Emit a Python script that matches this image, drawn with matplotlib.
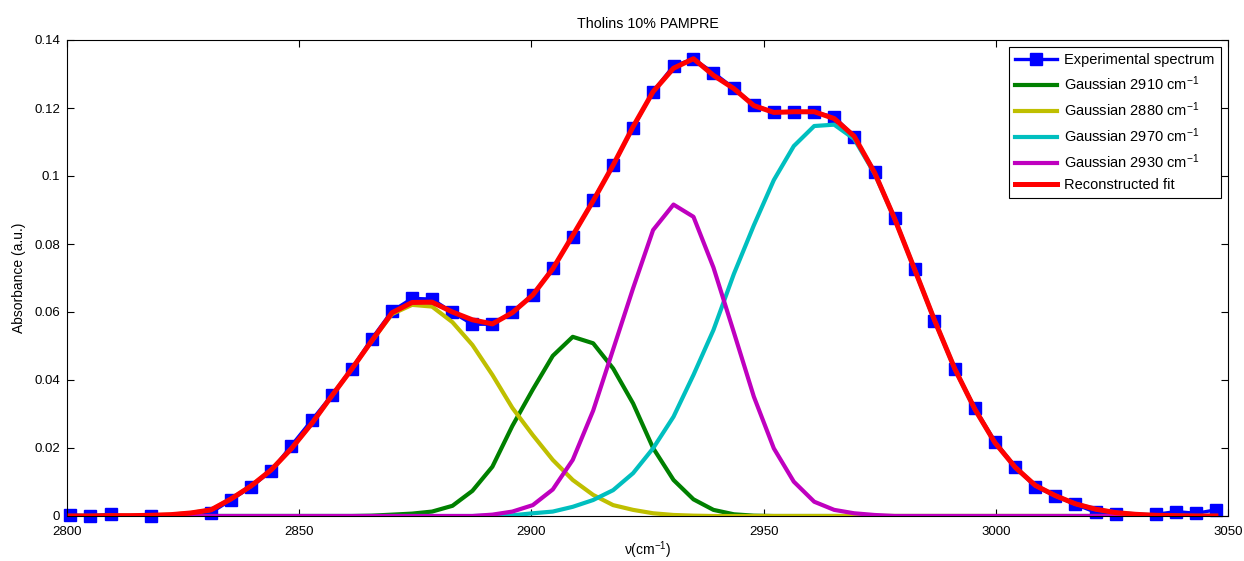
import numpy as np
import matplotlib
matplotlib.use("Agg")
import matplotlib.pyplot as plt

plt.rcParams['font.family'] = ['Liberation Sans', 'DejaVu Sans']
plt.rcParams['mathtext.fontset'] = 'custom'
plt.rcParams['mathtext.rm'] = 'Liberation Sans'
plt.rcParams['mathtext.it'] = 'Liberation Sans'
plt.rcParams['mathtext.default'] = 'regular'

# ---------------- data ----------------
wavenumber = [2800.7, 2805.0, 2809.4, 2813.7, 2818.0, 2822.4, 2826.7, 2831.0, 2835.3, 2839.7,
              2844.0, 2848.3, 2852.7, 2857.0, 2861.3, 2865.6, 2870.0, 2874.3, 2878.6, 2883.0,
              2887.3, 2891.6, 2895.9, 2900.3, 2904.6, 2908.9, 2913.3, 2917.6, 2921.9, 2926.2,
              2930.6, 2934.9, 2939.2, 2943.6, 2947.9, 2952.2, 2956.5, 2960.9, 2965.2, 2969.5,
              2973.9, 2978.2, 2982.5, 2986.8, 2991.2, 2995.5, 2999.8, 3004.2, 3008.5, 3012.8,
              3017.1, 3021.5, 3025.8, 3030.1, 3034.5, 3038.8, 3043.1, 3047.4]

experimental = [0.0003, 0.0001, 0.0005, -0.0010, 0.0000, -0.0008, -0.0004, 0.0010, 0.0047, 0.0086,
                0.0133, 0.0207, 0.0282, 0.0355, 0.0433, 0.0521, 0.0603, 0.0640, 0.0638, 0.0599,
                0.0564, 0.0564, 0.0600, 0.0651, 0.0729, 0.0822, 0.0929, 0.1032, 0.1142, 0.1248,
                0.1324, 0.1344, 0.1304, 0.1258, 0.1209, 0.1187, 0.1187, 0.1187, 0.1174, 0.1116,
                0.1013, 0.0877, 0.0726, 0.0574, 0.0431, 0.0317, 0.0219, 0.0145, 0.0086, 0.0060,
                0.0034, 0.0011, 0.0006, -0.0006, 0.0005, 0.0013, 0.0008, 0.0018]

gauss_2910 = [0.0, 0.0, 0.0, 0.0, 0.0, 0.0, 0.0, 0.0, 0.0, 0.0,
              0.0, 0.0, 0.0, 0.0, 0.0, 0.0001, 0.0004, 0.0007, 0.0013, 0.0030,
              0.0074, 0.0145, 0.0265, 0.0372, 0.0471, 0.0527, 0.0508, 0.0434, 0.0331, 0.0200,
              0.0106, 0.0049, 0.0018, 0.0005, 0.0001, 0.0, 0.0, 0.0, 0.0, 0.0,
              0.0, 0.0, 0.0, 0.0, 0.0, 0.0, 0.0, 0.0, 0.0, 0.0,
              0.0, 0.0, 0.0, 0.0, 0.0, 0.0, 0.0, 0.0]

gauss_2880 = [0.0, 0.0, 0.0001, 0.0001, 0.0002, 0.0004, 0.0009, 0.0018, 0.0050, 0.0089,
              0.0136, 0.0198, 0.0272, 0.0353, 0.0432, 0.0514, 0.0594, 0.0621, 0.0616, 0.0570,
              0.0503, 0.0415, 0.0318, 0.0238, 0.0165, 0.0106, 0.0062, 0.0032, 0.0018, 0.0008,
              0.0003, 0.0001, 0.0, 0.0, 0.0, 0.0, 0.0, 0.0, 0.0, 0.0,
              0.0, 0.0, 0.0, 0.0, 0.0, 0.0, 0.0, 0.0, 0.0, 0.0,
              0.0, 0.0, 0.0, 0.0, 0.0, 0.0, 0.0, 0.0]

gauss_2970 = [0.0, 0.0, 0.0, 0.0, 0.0, 0.0, 0.0, 0.0, 0.0, 0.0,
              0.0, 0.0, 0.0, 0.0, 0.0, 0.0, 0.0, 0.0, 0.0, 0.0,
              0.0, 0.0001, 0.0002, 0.0008, 0.0013, 0.0027, 0.0047, 0.0076, 0.0126, 0.0199,
              0.0292, 0.0415, 0.0547, 0.0712, 0.0855, 0.0988, 0.1088, 0.1147, 0.1151, 0.1109,
              0.1007, 0.0875, 0.0726, 0.0576, 0.0432, 0.0314, 0.0216, 0.0143, 0.0090, 0.0060,
              0.0036, 0.0020, 0.0010, 0.0005, 0.0002, 0.0001, 0.0, 0.0]

gauss_2930 = [0.0, 0.0, 0.0, 0.0, 0.0, 0.0, 0.0, 0.0, 0.0, 0.0,
              0.0, 0.0, 0.0, 0.0, 0.0, 0.0, 0.0, 0.0, 0.0, 0.0,
              0.0, 0.0004, 0.0013, 0.0032, 0.0078, 0.0165, 0.0310, 0.0490, 0.0670, 0.0841,
              0.0916, 0.0880, 0.0731, 0.0540, 0.0351, 0.0199, 0.0101, 0.0042, 0.0018, 0.0008,
              0.0003, 0.0, 0.0, 0.0, 0.0, 0.0, 0.0, 0.0, 0.0, 0.0,
              0.0, 0.0, 0.0, 0.0, 0.0, 0.0, 0.0, 0.0]

reconstructed = [0.0, 0.0, 0.0001, 0.0001, 0.0002, 0.0004, 0.0009, 0.0018, 0.0050, 0.0089,
                 0.0136, 0.0198, 0.0272, 0.0353, 0.0432, 0.0515, 0.0598, 0.0628, 0.0629, 0.0600,
                 0.0577, 0.0565, 0.0598, 0.0650, 0.0727, 0.0825, 0.0927, 0.1032, 0.1145, 0.1248,
                 0.1317, 0.1345, 0.1296, 0.1257, 0.1207, 0.1187, 0.1189, 0.1189, 0.1169, 0.1117,
                 0.1010, 0.0875, 0.0726, 0.0576, 0.0432, 0.0314, 0.0216, 0.0143, 0.0090, 0.0060,
                 0.0036, 0.0020, 0.0010, 0.0005, 0.0002, 0.0001, 0.0, 0.0]

x_ticks = [2800, 2850, 2900, 2950, 3000, 3050]
y_ticks = [0, 0.02, 0.04, 0.06, 0.08, 0.1, 0.12, 0.14]
y_ticklabels = ['0', '0.02', '0.04', '0.06', '0.08', '0.1', '0.12', '0.14']

# ---------------- figure ----------------
W, H = 1244, 561
fig = plt.figure(figsize=(W / 100, H / 100), dpi=100)
ax = fig.add_axes([67 / W, 1 - 516 / H, (1228 - 67) / W, (516 - 40) / H])

x = np.array(wavenumber)
yexp = np.array(experimental)

# experimental: line clipped, markers only where inside the y-range (MATLAB-like)
ax.plot(x, yexp, color='#0000FF', lw=2.4, zorder=2)
vis = yexp >= 0
ax.plot(x[vis], yexp[vis], ls='none', marker='s', ms=8.5, color='#0000FF',
        markeredgecolor='#0000FF', mew=1, clip_on=False, zorder=2)
# legend proxy
ax.plot([], [], color='#0000FF', lw=2.4, marker='s', ms=8.5, label='Experimental spectrum')

ax.plot(x, gauss_2910, color=(0, 0.5, 0), lw=3, label='Gaussian 2910 cm$^{-1}$', zorder=3)
ax.plot(x, gauss_2880, color=(0.75, 0.75, 0), lw=3, label='Gaussian 2880 cm$^{-1}$', zorder=3)
ax.plot(x, gauss_2970, color=(0, 0.75, 0.75), lw=3, label='Gaussian 2970 cm$^{-1}$', zorder=3)
ax.plot(x, gauss_2930, color=(0.75, 0, 0.75), lw=3, label='Gaussian 2930 cm$^{-1}$', zorder=3)
ax.plot(x, reconstructed, color='#FF0000', lw=3.6, label='Reconstructed fit', zorder=4)

ax.set_xlim(2800, 3050)
ax.set_ylim(0, 0.14)
ax.set_xticks(x_ticks)
ax.set_xticklabels([str(t) for t in x_ticks])
ax.set_yticks(y_ticks)
ax.set_yticklabels(y_ticklabels)
ax.tick_params(direction='in', length=5, width=0.8, labelsize=9.5, top=True, right=True,
               colors='black')
ax.tick_params(axis='x', pad=7)
ax.tick_params(axis='y', pad=5)
for s in ax.spines.values():
    s.set_linewidth(0.8)
    s.set_color('black')

ax.set_title('Tholins 10% PAMPRE', fontsize=10.3, pad=9)
ax.set_xlabel('ν(cm$^{-1}$)', fontsize=10, labelpad=1)
ax.set_ylabel('Absorbance (a.u.)', fontsize=10, labelpad=6)

handles, labels = ax.get_legend_handles_labels()
leg = ax.legend(handles, labels, loc='upper right', fontsize=10.5, frameon=True,
                fancybox=False, edgecolor='black', framealpha=1, numpoints=1,
                handlelength=2.9, borderaxespad=0.5, labelspacing=0.5, borderpad=0.4,
                handletextpad=0.5)
leg.get_frame().set_linewidth(0.8)

fig.savefig('out.png', dpi=100)
